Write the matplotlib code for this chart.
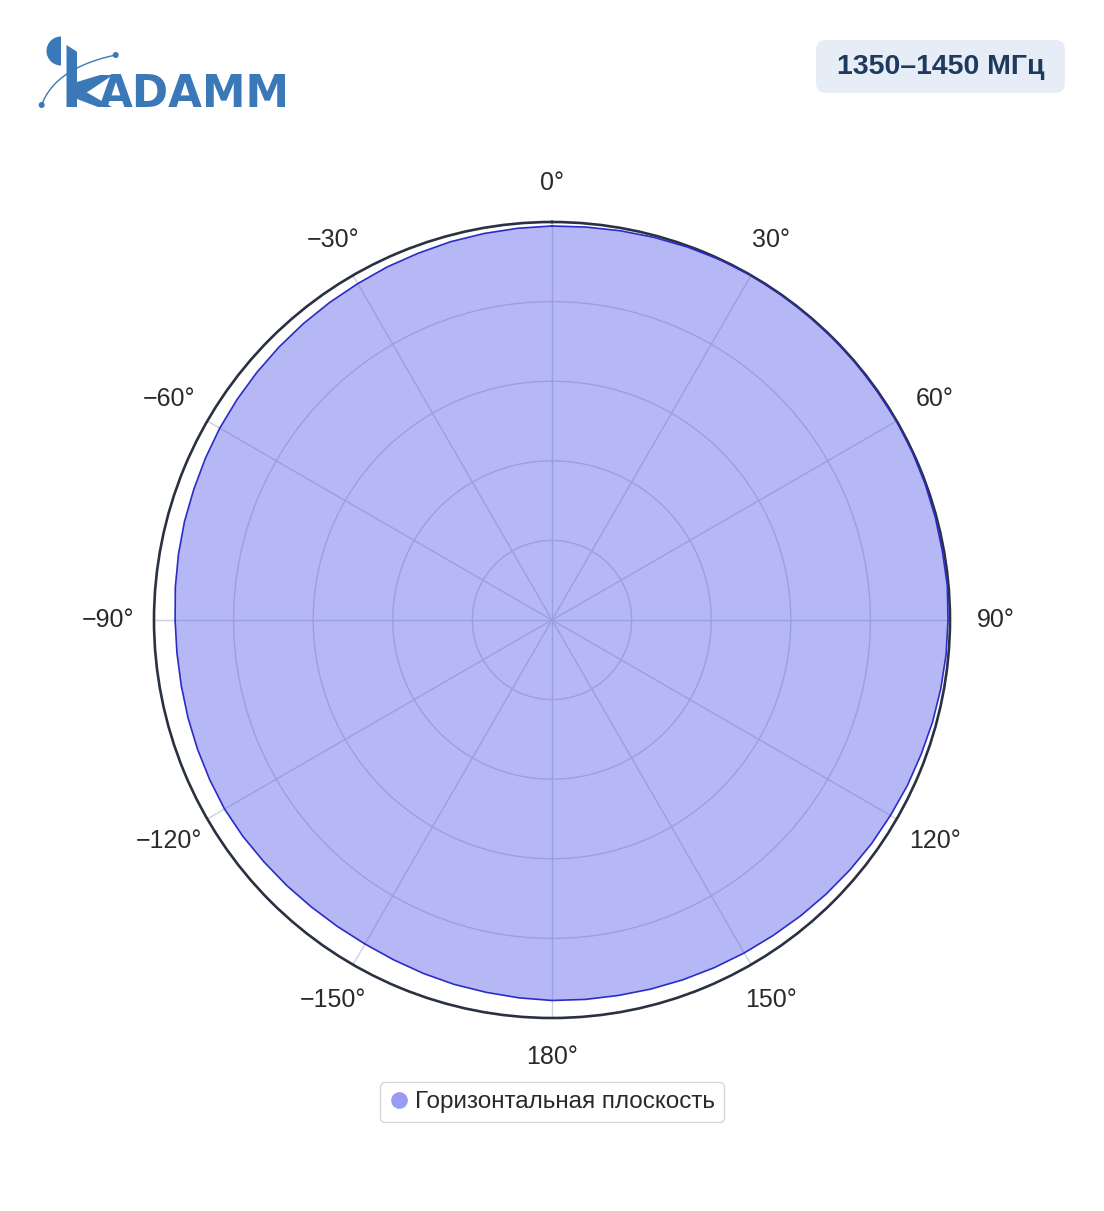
import numpy as np
import matplotlib.pyplot as plt
from matplotlib.patches import FancyBboxPatch, Wedge, Polygon, Circle
from matplotlib.lines import Line2D
import matplotlib

matplotlib.rcParams['font.family'] = ['Liberation Sans', 'DejaVu Sans']

# antenna pattern, horizontal plane (angle in degrees, relative level)
angles_deg = list(range(0, 360, 5))
gain = [0.990, 0.991, 0.993, 0.995, 0.997, 0.999, 1.000, 1.000, 1.000, 1.000,
        1.000, 0.999, 1.000, 0.999, 0.998, 0.997, 0.996, 0.997, 0.995, 0.994,
        0.992, 0.990, 0.987, 0.985, 0.982, 0.980, 0.977, 0.974, 0.971, 0.968,
        0.966, 0.964, 0.962, 0.960, 0.958, 0.957, 0.956, 0.953, 0.950, 0.948,
        0.945, 0.942, 0.940, 0.940, 0.941, 0.943, 0.945, 0.948, 0.950, 0.949,
        0.948, 0.947, 0.946, 0.946, 0.947, 0.950, 0.953, 0.956, 0.958, 0.961,
        0.964, 0.966, 0.968, 0.970, 0.972, 0.974, 0.976, 0.979, 0.981, 0.984,
        0.986, 0.988]

tick_deg = [0, 30, 60, 90, 120, 150, 180, 210, 240, 270, 300, 330]
tick_labels = ['0°', '30°', '60°', '90°', '120°', '150°', '180°',
               '−150°', '−120°', '−90°', '−60°', '−30°']
r_grid = [0.2, 0.4, 0.6, 0.8]

series_name = 'Горизонтальная плоскость'
band_label = '1350–1450 МГц'

W, H = 1104, 1211
fig = plt.figure(figsize=(W / 100, H / 100), dpi=100)

# polar plot: center (552, 620), radius 398 px
cx, cy, R = 552, 620, 398
ax = fig.add_axes([(cx - R) / W, (H - cy - R) / H, 2 * R / W, 2 * R / H],
                  projection='polar')
ax.set_theta_zero_location('N')
ax.set_theta_direction(-1)
ax.set_ylim(0, 1)

th = np.deg2rad(angles_deg + [angles_deg[0]])
rr = np.array(gain + [gain[0]])
ax.fill(th, rr, color='#5f61e9', alpha=0.45, linewidth=0, zorder=2)
ax.plot(th, rr, color='#2b2bc8', linewidth=1.2, zorder=3)

ax.set_xticks(np.deg2rad(tick_deg))
ax.set_xticklabels([])
ax.set_yticks(r_grid)
ax.set_yticklabels([])
ax.grid(color='#cdd0de', linewidth=1)
ax.spines['polar'].set_color('#2a3142')
ax.spines['polar'].set_linewidth(1.9)

# angular labels, set a little further out at the sides
for d, lab in zip(tick_deg, tick_labels):
    a = np.deg2rad(d)
    r_lab = 1 + (39 + 7 * np.sin(a) ** 2) / R
    ax.text(a, r_lab, lab, fontsize=18, color='#2a2a2a',
            ha='center', va='center', clip_on=False)

# legend
handle = Line2D([], [], linestyle='none', marker='o', markersize=11,
                markerfacecolor='#9a9cf2', markeredgecolor='#9a9cf2')
leg = fig.legend([handle], [series_name], loc='center',
                 bbox_to_anchor=(cx / W, 1 - 1102 / H), fontsize=17.5,
                 frameon=True, handletextpad=0.25, borderpad=0.35,
                 handlelength=0.85, fancybox=True)
leg.get_frame().set_edgecolor('#cccccc')
leg.get_frame().set_linewidth(1)
for t in leg.get_texts():
    t.set_color('#2a2a2a')

# overlay in pixel coords for logo and band label
ov = fig.add_axes([0, 0, 1, 1])
ov.set_xlim(0, W)
ov.set_ylim(H, 0)
ov.axis('off')
ov.patch.set_alpha(0)

logo = '#3b78b8'
ov.add_patch(Wedge((61, 51), 14.5, 90, 270, color=logo, linewidth=0))
ov.add_patch(Polygon([(66.5, 45), (77, 51.7), (77, 107), (66.5, 107)],
                     closed=True, color=logo, linewidth=0))
ov.add_patch(Polygon([(77, 82), (100, 75), (113, 75), (77, 99)],
                     closed=True, color=logo, linewidth=0))
ov.add_patch(Polygon([(77, 99), (86, 92), (112, 107), (98, 107)],
                     closed=True, color=logo, linewidth=0))
ov.text(99, 107, 'ADAMM', fontsize=31.5, fontweight='bold', color=logo,
        family='DejaVu Sans', ha='left', va='baseline')
t = np.linspace(0, 1, 50)
p0, p1, p2 = np.array([41.7, 105]), np.array([55, 68]), np.array([115.7, 55])
curve = ((1 - t) ** 2)[:, None] * p0 + (2 * (1 - t) * t)[:, None] * p1 + (t ** 2)[:, None] * p2
ov.plot(curve[:, 0], curve[:, 1], color=logo, linewidth=1)
ov.add_patch(Circle(tuple(p0), 2.3, color=logo))
ov.add_patch(Circle(tuple(p2), 2.3, color=logo))

ov.add_patch(FancyBboxPatch((816, 40), 249, 53,
                            boxstyle='round,pad=0,rounding_size=10',
                            facecolor='#e6edf6', edgecolor='none'))
ov.text(940.5, 67, band_label, fontsize=20.5, fontweight='bold', color='#1f3a5f',
        ha='center', va='center')

fig.savefig('out.png', dpi=100)
